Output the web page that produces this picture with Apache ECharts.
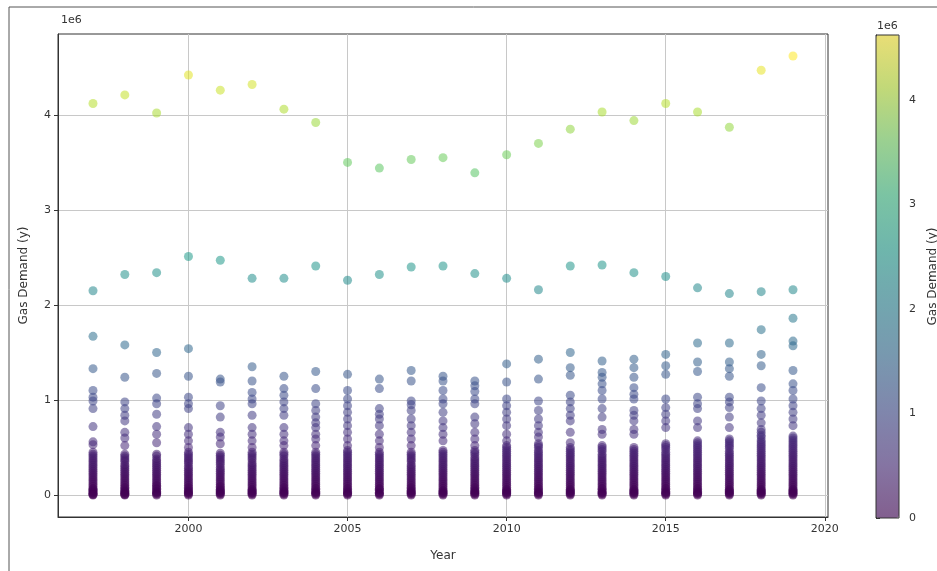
<!DOCTYPE html>
<html>
<head>
<meta charset="utf-8">
<script src="https://cdn.jsdelivr.net/npm/echarts@6/dist/echarts.min.js"></script>
<style>
  html, body { margin: 0; padding: 0; background: #fff; }
  #chart { width: 937px; height: 571px; }
</style>
</head>
<body>
<div id="chart"></div>
<script>
// Gas demand per year, values in units of 1e6
const years = [1997, 1998, 1999, 2000, 2001, 2002, 2003, 2004, 2005, 2006, 2007, 2008,
               2009, 2010, 2011, 2012, 2013, 2014, 2015, 2016, 2017, 2018, 2019];

// Largest consumer each year
const topTier = [4.12, 4.21, 4.02, 4.42, 4.26, 4.32, 4.06, 3.92, 3.50, 3.44, 3.53, 3.55,
                 3.39, 3.58, 3.70, 3.85, 4.03, 3.94, 4.12, 4.03, 3.87, 4.47, 4.62];

// Second largest consumer each year
const midTier = [2.15, 2.32, 2.34, 2.51, 2.47, 2.28, 2.28, 2.41, 2.26, 2.32, 2.40, 2.41,
                 2.33, 2.28, 2.16, 2.41, 2.42, 2.34, 2.30, 2.18, 2.12, 2.14, 2.16];

// All remaining consumers, one list per year
const lowerTier = [
  [1.67,1.33,1.10,1.03,0.99,0.91,0.72,0.56,0.53,0.45,0.43,0.41,0.39,0.37,0.35,0.33,0.31,0.29,0.27,0.25,0.23,0.21,0.19,0.17,0.15,0.13,0.11,0.09,0.07,0.06,0.05,0.04,0.03,0.02,0.01,0.005,0.0],
  [1.58,1.24,0.98,0.91,0.84,0.78,0.66,0.60,0.52,0.43,0.41,0.39,0.37,0.35,0.32,0.30,0.28,0.26,0.24,0.22,0.20,0.18,0.16,0.14,0.12,0.10,0.08,0.07,0.05,0.04,0.03,0.02,0.01,0.005,0.0],
  [1.50,1.28,1.02,0.96,0.85,0.72,0.64,0.55,0.43,0.41,0.38,0.36,0.34,0.32,0.30,0.28,0.26,0.24,0.22,0.20,0.18,0.16,0.14,0.12,0.10,0.09,0.07,0.06,0.04,0.03,0.02,0.01,0.0],
  [1.54,1.25,1.03,0.96,0.91,0.71,0.64,0.57,0.50,0.45,0.43,0.41,0.39,0.37,0.35,0.33,0.30,0.28,0.26,0.24,0.22,0.20,0.18,0.16,0.14,0.12,0.10,0.08,0.07,0.05,0.04,0.03,0.02,0.01,0.0],
  [1.22,1.19,0.94,0.82,0.66,0.61,0.54,0.44,0.42,0.40,0.38,0.36,0.34,0.32,0.29,0.27,0.25,0.23,0.21,0.19,0.17,0.15,0.13,0.11,0.09,0.08,0.06,0.05,0.04,0.03,0.02,0.01,0.0],
  [1.35,1.20,1.08,1.01,0.96,0.84,0.71,0.64,0.57,0.50,0.45,0.43,0.41,0.39,0.37,0.34,0.32,0.30,0.28,0.26,0.24,0.22,0.20,0.18,0.16,0.14,0.12,0.10,0.08,0.06,0.05,0.04,0.03,0.02,0.01,0.0],
  [1.25,1.12,1.05,0.98,0.91,0.84,0.71,0.64,0.57,0.52,0.45,0.43,0.41,0.38,0.36,0.34,0.32,0.30,0.28,0.26,0.24,0.22,0.20,0.18,0.16,0.14,0.12,0.10,0.08,0.07,0.05,0.04,0.03,0.02,0.01,0.0],
  [1.30,1.12,0.96,0.89,0.82,0.76,0.71,0.64,0.59,0.52,0.45,0.43,0.41,0.39,0.37,0.35,0.33,0.31,0.29,0.27,0.25,0.23,0.21,0.19,0.17,0.15,0.13,0.11,0.09,0.07,0.06,0.04,0.03,0.02,0.01,0.0],
  [1.27,1.10,1.01,0.94,0.87,0.80,0.73,0.66,0.59,0.52,0.47,0.45,0.43,0.41,0.39,0.37,0.35,0.33,0.31,0.29,0.27,0.25,0.23,0.21,0.19,0.17,0.15,0.13,0.11,0.09,0.07,0.06,0.04,0.03,0.02,0.01,0.0],
  [1.22,1.12,0.91,0.85,0.80,0.73,0.64,0.57,0.50,0.45,0.43,0.41,0.39,0.37,0.35,0.33,0.31,0.29,0.27,0.25,0.23,0.21,0.19,0.17,0.15,0.13,0.11,0.09,0.07,0.06,0.05,0.03,0.02,0.01,0.0],
  [1.31,1.20,0.99,0.95,0.89,0.80,0.73,0.66,0.59,0.52,0.45,0.43,0.41,0.39,0.37,0.35,0.32,0.30,0.28,0.26,0.24,0.22,0.20,0.18,0.16,0.14,0.12,0.10,0.08,0.07,0.05,0.04,0.03,0.02,0.01,0.0],
  [1.25,1.20,1.10,1.01,0.96,0.87,0.78,0.71,0.64,0.57,0.47,0.45,0.43,0.41,0.39,0.37,0.35,0.33,0.31,0.29,0.27,0.25,0.23,0.21,0.19,0.17,0.15,0.13,0.11,0.09,0.07,0.05,0.04,0.03,0.02,0.01,0.0],
  [1.20,1.15,1.09,1.01,0.96,0.82,0.75,0.66,0.59,0.52,0.47,0.45,0.43,0.40,0.38,0.36,0.34,0.32,0.30,0.28,0.26,0.24,0.22,0.20,0.18,0.16,0.14,0.12,0.10,0.08,0.07,0.05,0.04,0.03,0.02,0.01,0.0],
  [1.38,1.19,1.01,0.94,0.87,0.80,0.73,0.64,0.57,0.52,0.50,0.48,0.46,0.44,0.42,0.40,0.38,0.36,0.34,0.32,0.30,0.28,0.26,0.24,0.22,0.20,0.18,0.16,0.14,0.12,0.10,0.08,0.06,0.05,0.04,0.03,0.02,0.01,0.0],
  [1.43,1.22,0.99,0.89,0.80,0.73,0.66,0.61,0.54,0.52,0.50,0.47,0.45,0.43,0.41,0.39,0.37,0.35,0.33,0.31,0.29,0.27,0.25,0.23,0.21,0.19,0.17,0.15,0.13,0.11,0.09,0.07,0.06,0.04,0.03,0.02,0.01,0.0],
  [1.50,1.34,1.26,1.05,0.98,0.91,0.84,0.78,0.66,0.55,0.50,0.48,0.46,0.44,0.42,0.40,0.38,0.36,0.34,0.32,0.30,0.28,0.26,0.24,0.22,0.20,0.18,0.16,0.14,0.12,0.10,0.08,0.06,0.05,0.04,0.03,0.02,0.01,0.0],
  [1.41,1.29,1.24,1.17,1.10,1.01,0.91,0.82,0.69,0.64,0.52,0.50,0.48,0.46,0.43,0.41,0.39,0.37,0.35,0.33,0.31,0.29,0.27,0.25,0.23,0.21,0.19,0.17,0.15,0.13,0.11,0.09,0.07,0.06,0.04,0.03,0.02,0.01,0.0],
  [1.43,1.34,1.24,1.13,1.06,1.01,0.89,0.84,0.78,0.69,0.64,0.50,0.48,0.46,0.44,0.42,0.40,0.38,0.36,0.34,0.32,0.30,0.28,0.26,0.24,0.22,0.20,0.18,0.16,0.14,0.12,0.10,0.08,0.06,0.05,0.04,0.03,0.02,0.01,0.0],
  [1.48,1.36,1.27,1.01,0.92,0.85,0.78,0.71,0.54,0.52,0.50,0.48,0.45,0.43,0.41,0.39,0.37,0.35,0.33,0.31,0.29,0.27,0.25,0.23,0.21,0.19,0.17,0.15,0.13,0.11,0.09,0.07,0.06,0.04,0.03,0.02,0.01,0.0],
  [1.60,1.40,1.30,1.03,0.96,0.91,0.78,0.71,0.57,0.55,0.53,0.51,0.49,0.47,0.45,0.43,0.41,0.39,0.37,0.35,0.33,0.31,0.29,0.27,0.25,0.23,0.21,0.19,0.17,0.15,0.13,0.11,0.09,0.07,0.06,0.04,0.03,0.02,0.01,0.0],
  [1.60,1.40,1.33,1.25,1.03,0.98,0.92,0.82,0.71,0.59,0.57,0.55,0.53,0.51,0.49,0.46,0.44,0.42,0.40,0.38,0.36,0.34,0.32,0.30,0.28,0.26,0.24,0.22,0.20,0.18,0.16,0.14,0.12,0.10,0.08,0.06,0.05,0.04,0.03,0.02,0.01,0.0],
  [1.74,1.48,1.36,1.13,0.99,0.91,0.84,0.76,0.69,0.66,0.63,0.61,0.58,0.56,0.54,0.52,0.50,0.48,0.46,0.44,0.42,0.40,0.38,0.36,0.34,0.32,0.30,0.28,0.26,0.24,0.22,0.20,0.18,0.16,0.14,0.12,0.10,0.08,0.06,0.05,0.04,0.03,0.02,0.01,0.0],
  [1.86,1.62,1.57,1.31,1.17,1.10,1.01,0.94,0.87,0.80,0.73,0.62,0.60,0.58,0.56,0.54,0.52,0.50,0.48,0.46,0.44,0.42,0.40,0.38,0.36,0.34,0.32,0.30,0.28,0.26,0.24,0.22,0.20,0.18,0.16,0.14,0.12,0.10,0.08,0.06,0.05,0.04,0.03,0.02,0.01,0.0]
];

const yTicks = [0, 1, 2, 3, 4];
const xTicks = [2000, 2005, 2010, 2015, 2020];

// viridis colour stops, drawn semi-transparent
const viridis = ['#440154', '#482878', '#3e4989', '#31688e', '#26828e',
                 '#1f9e89', '#35b779', '#6ece58', '#b5de2b', '#fde725'];
const ALPHA = 0.55;
function withAlpha(hex, a) {
  const n = parseInt(hex.slice(1), 16);
  return 'rgba(' + (n >> 16) + ',' + ((n >> 8) & 255) + ',' + (n & 255) + ',' + a + ')';
}

// flatten into [year, value] points
const points = [];
years.forEach((yr, i) => {
  lowerTier[i].forEach(v => points.push([yr, v]));
});
years.forEach((yr, i) => points.push([yr, midTier[i]]));
years.forEach((yr, i) => points.push([yr, topTier[i]]));

const allVals = points.map(p => p[1]);
const vMin = Math.min(...allVals), vMax = Math.max(...allVals);
const yPad = (vMax - vMin) * 0.05;
const xPad = (years[years.length - 1] - years[0]) * 0.05;

const FONT = 'DejaVu Sans';
const TXT = '#333';
const tickStyle = { show: true, length: 4, lineStyle: { color: '#333' } };
const labelStyle = { fontFamily: FONT, fontSize: 11, color: TXT, formatter: v => String(v) };

const chart = echarts.init(document.getElementById('chart'), null, { renderer: 'canvas' });
chart.setOption({
  animation: false,
  backgroundColor: '#fff',
  textStyle: { fontFamily: FONT },
  grid: [
    { left: 58, top: 34, right: 109, bottom: 54, show: true, borderColor: '#333', borderWidth: 1,
      backgroundColor: 'transparent', containLabel: false, outerBoundsMode: 'none' },
    { left: 876, top: 35, width: 23, height: 483, show: true, borderColor: '#333', borderWidth: 1,
      backgroundColor: 'transparent', z: 10, containLabel: false, outerBoundsMode: 'none' }
  ],
  xAxis: [
    {
      gridIndex: 0, type: 'value',
      min: years[0] - xPad, max: years[years.length - 1] + xPad,
      splitNumber: 5,
      name: 'Year', nameLocation: 'middle', nameGap: 33,
      nameTextStyle: { fontFamily: FONT, fontSize: 12, color: TXT },
      axisLine: { show: true, onZero: false, lineStyle: { color: '#333' } },
      axisTick: Object.assign({ customValues: xTicks }, tickStyle),
      axisLabel: Object.assign({ customValues: xTicks, margin: 7 }, labelStyle),
      splitLine: { show: true, lineStyle: { color: '#c8c8c8', width: 1 } }
    },
    { gridIndex: 1, type: 'value', min: 0, max: 1, show: false }
  ],
  yAxis: [
    {
      gridIndex: 0, type: 'value',
      min: vMin - yPad, max: vMax + yPad,
      splitNumber: 5,
      name: 'Gas Demand (y)', nameLocation: 'middle', nameGap: 28, nameRotate: 90,
      nameTextStyle: { fontFamily: FONT, fontSize: 12, color: TXT },
      axisLine: { show: true, onZero: false, lineStyle: { color: '#333' } },
      axisTick: Object.assign({ customValues: yTicks }, tickStyle),
      axisLabel: Object.assign({ customValues: yTicks, margin: 7 }, labelStyle),
      splitLine: { show: true, lineStyle: { color: '#c8c8c8', width: 1 } }
    },
    {
      gridIndex: 1, type: 'value', position: 'right',
      min: 0, max: vMax, interval: 1,
      name: 'Gas Demand (y)', nameLocation: 'middle', nameGap: 28, nameRotate: 90,
      nameTextStyle: { fontFamily: FONT, fontSize: 12, color: TXT },
      axisLine: { show: true, lineStyle: { color: '#333' } },
      axisTick: Object.assign({ customValues: yTicks }, tickStyle),
      axisLabel: Object.assign({ customValues: yTicks, margin: 10 }, labelStyle),
      splitLine: { show: false }
    }
  ],
  visualMap: {
    type: 'continuous',
    min: 0, max: vMax,
    dimension: 1,
    seriesIndex: 0,
    orient: 'vertical',
    left: 876, top: 35,
    itemWidth: 23, itemHeight: 483,
    padding: 0,
    calculable: false,
    hoverLink: false,
    showLabel: false,
    text: null,
    inRange: { color: viridis.map(c => withAlpha(c, ALPHA)) }
  },
  graphic: [
    { type: 'rect', shape: { x: 9, y: 7, width: 960, height: 600 }, style: { fill: 'none', stroke: '#555', lineWidth: 1 }, silent: true },
    { type: 'text', left: 61, top: 15, style: { text: '1e6', font: '11px "DejaVu Sans"', fill: TXT } },
    { type: 'text', left: 877, top: 21, style: { text: '1e6', font: '11px "DejaVu Sans"', fill: TXT } }
  ],
  series: [{
    type: 'scatter',
    xAxisIndex: 0, yAxisIndex: 0,
    symbol: 'circle',
    symbolSize: 9,
    data: points,
    emphasis: { disabled: true },
    itemStyle: { opacity: 1 }
  }]
});
</script>
</body>
</html>
